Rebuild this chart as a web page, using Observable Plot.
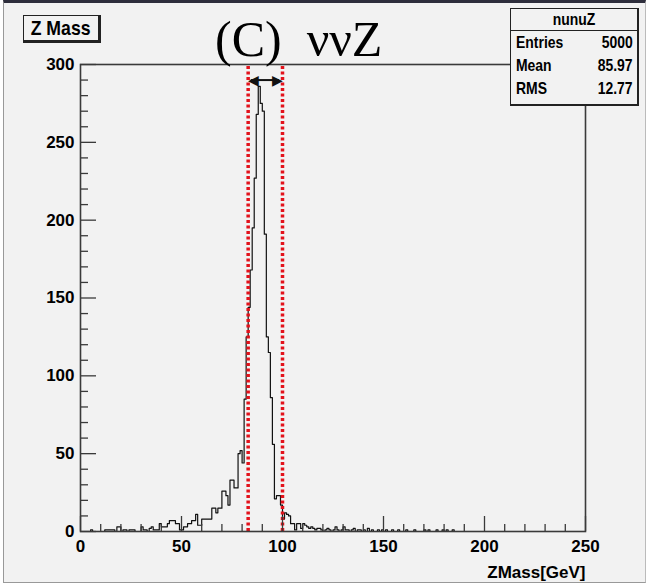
<!DOCTYPE html>
<html><head><meta charset="utf-8">
<script src="https://cdn.jsdelivr.net/npm/d3@7"></script>
<script src="https://cdn.jsdelivr.net/npm/@observablehq/plot@0.6"></script>
<style>
html,body{margin:0;padding:0;background:#fff;width:650px;height:586px;overflow:hidden;}
#canvas{position:absolute;left:3px;top:0;width:641px;height:579px;background:#f2f2f2;border-top:3px solid #2e2e3c;border-left:1px solid #999;border-right:1px solid #bbb;border-bottom:1px solid #999;}
#chart{position:absolute;left:0;top:0;}
#title{position:absolute;left:215px;top:14px;font-family:"Liberation Serif",serif;font-size:50px;line-height:50px;color:#000;white-space:nowrap;}
#hbox{position:absolute;left:23px;top:15px;width:74px;height:24px;border:1px solid #222;border-right:3px solid #222;border-bottom:3px solid #222;background:#f2f2f2;font-family:"Liberation Sans",Arial,sans-serif;font-weight:bold;font-size:21px;line-height:24px;text-align:center;color:#000;white-space:nowrap;overflow:visible;}
#hbox span{display:inline-block;transform:scaleX(0.84);transform-origin:center;}
#stats{position:absolute;left:510px;top:8px;width:126px;height:95px;border:1px solid #222;border-right:2px solid #222;border-bottom:2px solid #222;background:#f2f2f2;font-family:"Liberation Sans",Arial,sans-serif;font-weight:bold;font-size:17px;color:#000;white-space:nowrap;}
#stats .hd{height:21px;line-height:21px;text-align:center;border-bottom:1px solid #222;}
#stats .hd span{display:inline-block;transform:scaleX(0.82);transform-origin:center;}
#stats .row{position:relative;height:23px;line-height:23px;}
#stats .row .k{position:absolute;left:5px;transform:scaleX(0.82);transform-origin:left center;}
#stats .row .v{position:absolute;right:4px;transform:scaleX(0.82);transform-origin:right center;}
</style></head><body>
<div id="canvas"></div>
<div id="chart"></div>
<div id="title">(C)&nbsp;&nbsp;ννZ</div>
<div id="hbox"><span>Z Mass</span></div>
<div id="stats"></div>
<script>
// histogram of Z mass, 1 GeV bins from 0 to 250 (bin i covers [i, i+1))
const counts = [
  0,0,0,0,0,1,0,0,0,0,
  0,0,1,1,1,1,1,0,3,3,
  0,1,1,0,1,1,1,0,0,0,
  3,1,1,0,2,3,1,1,1,5,
  3,3,3,5,7,7,7,5,5,1,
  1,3,3,5,5,7,7,11,4,4,
  8,8,8,8,8,15,15,12,15,15,
  26,26,23,17,33,33,28,28,50,52,
  44,85,125,144,168,195,227,268,286,275,
  270,191,125,115,86,56,21,23,23,17,
  8,12,11,10,5,5,1,5,5,2,
  5,4,3,2,3,2,1,2,2,1,
  0,1,2,1,0,1,3,1,0,1,
  3,1,1,0,1,2,0,1,1,0,
  1,0,2,0,1,0,0,1,0,1,
  0,1,0,0,1,0,0,1,0,0,
  0,1,0,0,0,1,0,0,0,0,
  1,0,1,0,0,0,1,0,0,1,
  0,1,0,0,1,0,0,0,0,0,
  0,0,0,0,0,0,0,0,0,0,
  0,0,0,0,0,0,0,0,0,0,
  0,0,0,0,0,0,0,0,0,0,
  0,0,0,0,0,0,0,0,0,0,
  0,0,0,0,0,0,0,0,0,0,
  0,0,0,0,0,0,0,0,0,0
];
const binStart = 0, binWidth = 1;
const xDomain = [0, 250];
const yDomain = [0, 300];
const xMajorTicks = [0, 50, 100, 150, 200, 250];
const xMinorTicks = [10,20,30,40,60,70,80,90,110,120,130,140,160,170,180,190,210,220,230,240];
const yMajorTicks = [0, 50, 100, 150, 200, 250, 300];
const yMinorTicks = [10,20,30,40,60,70,80,90,110,120,130,140,160,170,180,190,210,220,230,240,260,270,280,290];
const cutLines = [83, 100];
const arrowLevel = [290];
const histName = "nunuZ";
const statLabels = ["Entries", "Mean", "RMS"];
const statValues = ["5000", "85.97", "12.77"];
const xLabel = "ZMass[GeV]";

// stats box
const st = document.getElementById("stats");
st.innerHTML = `<div class="hd"><span>${histName}</span></div>` +
  statLabels.map((k,i)=>`<div class="row"><span class="k">${k}</span><span class="v">${statValues[i]}</span></div>`).join("");

const pts = counts.map((c,i)=>({x: binStart + i*binWidth, y: c}));
pts.push({x: binStart + counts.length*binWidth, y: counts[counts.length-1]});

const W = 650, H = 586, mL = 80, mR = 65, mT = 64, mB = 55;
const fw = W - mL - mR, fh = H - mT - mB;
const font = "'Liberation Sans', Arial, sans-serif";
const axisCol = "#3a3a3a";

const chart = Plot.plot({
  width: W, height: H,
  marginLeft: mL, marginRight: mR, marginTop: mT, marginBottom: mB,
  style: {background: "transparent", overflow: "visible"},
  x: {domain: xDomain},
  y: {domain: yDomain},
  marks: [
    Plot.lineY(pts, {x: "x", y: "y", curve: "step-after", stroke: "#111", strokeWidth: 1.2}),
    Plot.ruleX(cutLines, {x: d=>d, y1: yDomain[0], y2: yDomain[1], stroke: "#e3121b", strokeWidth: 3.5, strokeDasharray: "3,2.5"}),
    Plot.ruleY(arrowLevel, {y: d=>d, x1: cutLines[0]+1.5, x2: cutLines[1]-1.5, stroke: "#111", strokeWidth: 2}),
    Plot.text(arrowLevel, {y: d=>d, x: cutLines[0], text: d=>"◀", textAnchor: "start", fontSize: 14, fill: "#111", dx: 0}),
    Plot.text(arrowLevel, {y: d=>d, x: cutLines[1], text: d=>"▶", textAnchor: "end", fontSize: 14, fill: "#111", dx: 0}),
    Plot.ruleX(xMajorTicks, {x: d=>d, stroke: axisCol, strokeWidth: 1.3, insetTop: fh - 15}),
    Plot.ruleX(xMinorTicks, {x: d=>d, stroke: axisCol, strokeWidth: 1.3, insetTop: fh - 7}),
    Plot.ruleY(yMajorTicks, {y: d=>d, stroke: axisCol, strokeWidth: 1.3, insetRight: fw - 16}),
    Plot.ruleY(yMinorTicks, {y: d=>d, stroke: axisCol, strokeWidth: 1.3, insetRight: fw - 8}),
    Plot.frame({stroke: axisCol, strokeWidth: 1.6}),
    Plot.axisX({ticks: xMajorTicks, tickSize: 0, tickPadding: 8, fontSize: 17, fontWeight: "bold", fontFamily: font, fill: "#000", label: null}),
    Plot.axisY({ticks: yMajorTicks, tickSize: 0, tickPadding: 6, fontSize: 17, fontWeight: "bold", fontFamily: font, fill: "#000", label: null}),
    Plot.text([xLabel], {frameAnchor: "bottom-right", text: d=>d, dy: 46, fontSize: 17, fontWeight: "bold", fontFamily: font, fill: "#000", textAnchor: "end"})
  ]
});
document.getElementById("chart").appendChild(chart);
</script>
</body></html>
